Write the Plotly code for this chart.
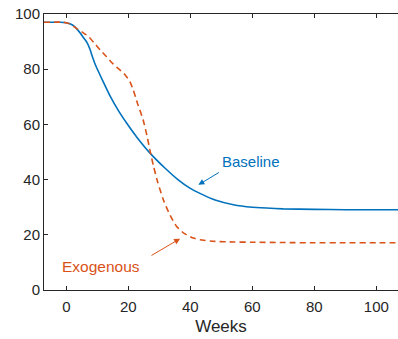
import plotly.graph_objects as go

# Data
base_x = [-7.2, -2, 0, 2, 4, 5.5, 6.6, 7.6, 8.5, 9.3, 10.5, 12, 14.1, 17, 19.5, 23, 27, 31.8, 36, 40, 43.1, 48, 53.9, 60, 64.6, 70, 80, 90, 100, 107]
base_y = [97, 97, 96.8, 96, 93.8, 91.5, 89.8, 87.3, 84.2, 81.8, 78.8, 75.2, 70.3, 64.6, 60.4, 55, 49.6, 44.2, 40, 36.8, 35, 32.6, 30.9, 30, 29.7, 29.4, 29.2, 29.1, 29.1, 29.1]

exo_x = [-7.2, -1, 1, 3, 5, 7, 9, 10.9, 13, 15, 17, 19, 20.5, 21.6, 23, 24.8, 26, 27, 28.1, 29.5, 31.3, 33.5, 35.6, 38, 41, 43.1, 48, 53.9, 60, 70, 80, 90, 100, 107]
exo_y = [97, 97, 96.5, 95, 93.5, 92, 89.5, 87, 84.5, 82, 80, 77.9, 75.5, 72.5, 67.5, 61.6, 56, 50.5, 45, 39, 32.7, 27, 23, 20.5, 18.8, 18.2, 17.6, 17.4, 17.3, 17.2, 17.1, 17.1, 17.1, 17.1]

x_ticks = [0, 20, 40, 60, 80, 100]
y_ticks = [0, 20, 40, 60, 80, 100]

BLUE = "#0072BD"
ORANGE = "#D95319"
AXC = "#262626"

fig = go.Figure()
fig.add_trace(go.Scatter(x=base_x, y=base_y, mode="lines", name="Baseline",
                         line=dict(color=BLUE, width=1.6, shape="spline", smoothing=0.3)))
fig.add_trace(go.Scatter(x=exo_x, y=exo_y, mode="lines", name="Exogenous",
                         line=dict(color=ORANGE, width=1.6, dash="6px,4px", shape="spline", smoothing=0.5)))

# Arrows
fig.add_annotation(x=42.6, y=38.1, ax=49.7, ay=42.9, xref="x", yref="y", axref="x", ayref="y",
                   text="", showarrow=True, arrowhead=2, arrowsize=1.2, arrowwidth=1, arrowcolor=BLUE)
fig.add_annotation(x=36.7, y=18.6, ax=27, ay=12.2, xref="x", yref="y", axref="x", ayref="y",
                   text="", showarrow=True, arrowhead=2, arrowsize=1.2, arrowwidth=1, arrowcolor=ORANGE)
# Labels
fig.add_annotation(x=59.7, y=46.5, xref="x", yref="y", text="Baseline", showarrow=False,
                   font=dict(family="Liberation Sans, Arial", size=15, color=BLUE))
fig.add_annotation(x=11.3, y=8.5, xref="x", yref="y", text="Exogenous", showarrow=False,
                   font=dict(family="Liberation Sans, Arial", size=15.5, color=ORANGE))

fig.update_layout(
    width=398, height=339,
    margin=dict(l=44, r=0, t=14, b=49),
    paper_bgcolor="white", plot_bgcolor="white",
    showlegend=False,
    font=dict(family="Liberation Sans, Arial", size=15, color=AXC),
    xaxis=dict(range=[-7.2, 107], tickvals=x_ticks, ticks="inside", ticklen=4, tickcolor=AXC,
               showline=True, linecolor=AXC, linewidth=1, mirror="ticks", showgrid=False, zeroline=False,
               ticklabelstandoff=3,
               title=dict(text="Weeks", font=dict(size=17), standoff=6)),
    yaxis=dict(range=[0, 100], tickvals=y_ticks, ticks="inside", ticklen=4, tickcolor=AXC,
               showline=True, linecolor=AXC, linewidth=1, mirror=False, showgrid=False, zeroline=False),
)

fig.write_html("out.html")
